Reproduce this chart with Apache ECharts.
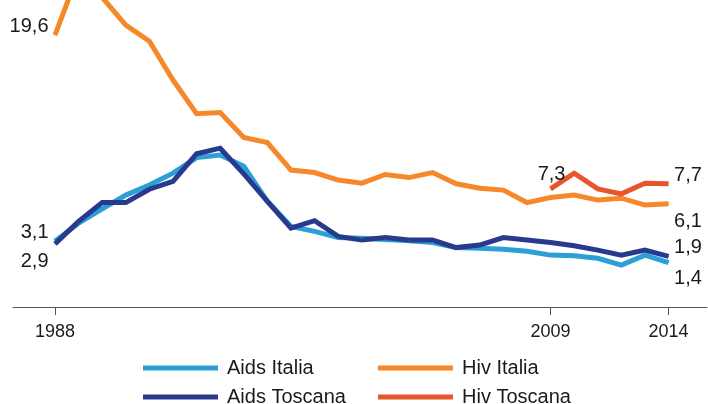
<!DOCTYPE html>
<html>
<head>
<meta charset="utf-8">
<script src="https://cdn.jsdelivr.net/npm/echarts@6/dist/echarts.min.js"></script>
<style>
  html, body { margin: 0; padding: 0; background: #fff; }
  #chart { width: 708px; height: 404px; }
</style>
</head>
<body>
<div id="chart"></div>
<script>
// anni
const years = [1988, 1989, 1990, 1991, 1992, 1993, 1994, 1995, 1996, 1997, 1998, 1999, 2000,
  2001, 2002, 2003, 2004, 2005, 2006, 2007, 2008, 2009, 2010, 2011, 2012, 2013, 2014];
const tickYears = [1988, 2009, 2014];

// valori
const aidsItalia = [3.1, 4.55, 5.7, 6.8, 7.6, 8.55, 9.8, 10.0, 9.1, 6.3, 4.3, 3.9, 3.4,
  3.35, 3.25, 3.15, 3.0, 2.6, 2.55, 2.47, 2.3, 2.0, 1.95, 1.75, 1.2, 2.0, 1.4];
const aidsToscana = [2.9, 4.7, 6.2, 6.2, 7.27, 7.9, 10.1, 10.55, 8.5, 6.3, 4.15, 4.75, 3.5,
  3.2, 3.4, 3.2, 3.2, 2.6, 2.8, 3.4, 3.2, 3.0, 2.75, 2.4, 2.0, 2.4, 1.9];
const hivItalia = [19.6, 24.6, 22.6, 20.4, 19.1, 16.0, 13.3, 13.4, 11.4, 11.0, 8.8, 8.6, 8.0,
  7.75, 8.45, 8.2, 8.6, 7.7, 7.35, 7.2, 6.2, 6.6, 6.8, 6.4, 6.55, 6.0, 6.1];
const hivToscana = [null, null, null, null, null, null, null, null, null, null, null, null, null,
  null, null, null, null, null, null, null, null, 7.3, 8.55, 7.3, 6.9, 7.75, 7.7];

const font = 'Liberation Sans, Arial, sans-serif';

// etichette sui punti: indice -> [posizione, offset]
function build(values, labels) {
  return values.map((v, i) => {
    const item = { value: [years[i], v] };
    if (labels[i]) {
      item.label = {
        show: true,
        position: labels[i][0],
        distance: 0,
        offset: labels[i][1],
        formatter: (p) => String(p.value[1]).replace('.', ','),
        fontFamily: font,
        fontSize: 20,
        color: '#1a1a1a'
      };
    }
    return item;
  });
}

function line(name, color, data) {
  return {
    name: name,
    type: 'line',
    data: data,
    symbol: 'circle',
    symbolSize: 1,
    showSymbol: true,
    itemStyle: { color: color },
    lineStyle: { color: color, width: 5, join: 'miter' },
    emphasis: { disabled: true },
    connectNulls: false,
    animation: false
  };
}

// una legenda per voce, disposte su due colonne
function legendItem(name, left, top) {
  return {
    left: left, top: top, padding: 0,
    data: [name],
    icon: 'rect', itemWidth: 75, itemHeight: 5,
    textStyle: { fontFamily: font, fontSize: 20, lineHeight: 20, color: '#1a1a1a', padding: [0, 0, 0, 4] }
  };
}

const chart = echarts.init(document.getElementById('chart'));

const option = {
  animation: false,
  grid: { left: 13, right: 1, top: 0, bottom: 97 },
  legend: [
    legendItem('Aids Italia', 143, 358),
    legendItem('Aids Toscana', 143, 387),
    legendItem('Hiv Italia', 378, 358),
    legendItem('Hiv Toscana', 378, 387)
  ],
  xAxis: {
    type: 'value',
    min: 1986.22,
    max: 2015.63,
    splitLine: { show: false },
    axisLine: { show: true, onZero: false, lineStyle: { color: '#555', width: 1 } },
    axisTick: { show: true, customValues: tickYears, length: 8, lineStyle: { color: '#555' } },
    axisLabel: {
      customValues: tickYears,
      margin: 16,
      fontFamily: font,
      fontSize: 18,
      color: '#1a1a1a',
      formatter: (v) => String(v)
    }
  },
  yAxis: {
    type: 'value',
    min: -2.15,
    max: 22.4,
    show: false,
    splitLine: { show: false }
  },
  series: [
    line('Aids Italia', '#2b9fd6', build(aidsItalia, { 0: ['left', [-6, -9]], 26: ['right', [5, 16]] })),
    line('Aids Toscana', '#283a8e', build(aidsToscana, { 0: ['left', [-6, 18]], 26: ['right', [5, -9]] })),
    line('Hiv Italia', '#f7882a', build(hivItalia, { 0: ['left', [-6, -9]], 26: ['right', [5, 18]] })),
    line('Hiv Toscana', '#e8552a', build(hivToscana, { 21: ['top', [1, -4]], 26: ['right', [5, -8]] }))
  ]
};

chart.setOption(option);
</script>
</body>
</html>
